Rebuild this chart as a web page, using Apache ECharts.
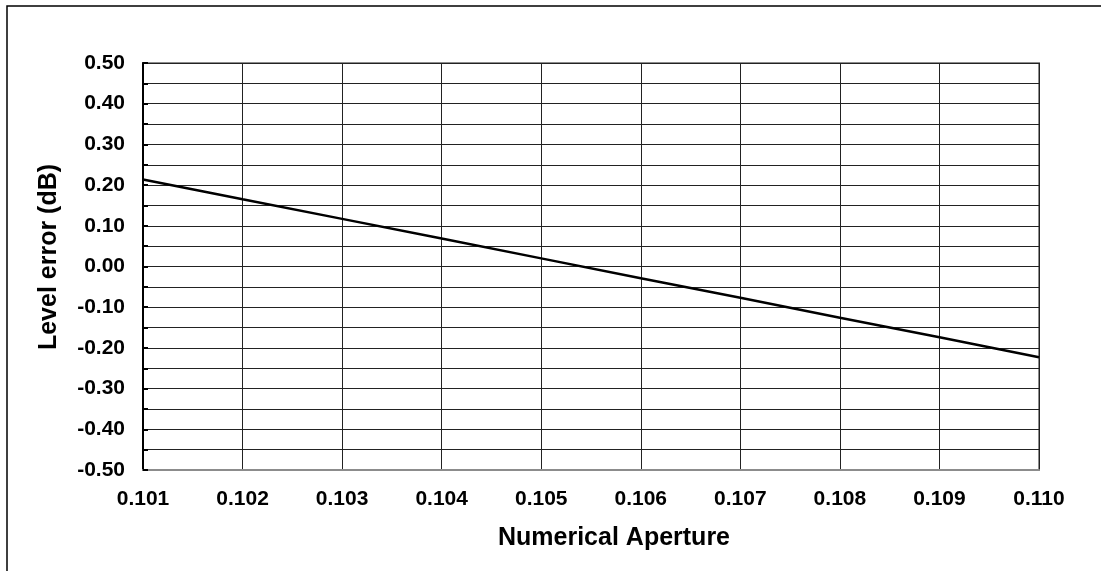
<!DOCTYPE html>
<html>
<head>
<meta charset="utf-8">
<script src="https://cdn.jsdelivr.net/npm/echarts@6/dist/echarts.min.js"></script>
<style>
html,body{margin:0;padding:0;background:#fff;}
#c{width:1101px;height:571px;}
</style>
</head>
<body>
<div id="c"></div>
<script>
var apertures = [0.101, 0.102, 0.103, 0.104, 0.105, 0.106, 0.107, 0.108, 0.109, 0.110];
var levelError = [0.214, 0.165, 0.117, 0.069, 0.020, -0.029, -0.077, -0.126, -0.174, -0.223];
var xTitle = 'Numerical Aperture';
var yTitle = 'Level error (dB)';

var FONT = '"Liberation Sans", Arial, sans-serif';
var chart = echarts.init(document.getElementById('c'), null, {renderer: 'canvas'});
var pts = apertures.map(function (x, i) { return [x, levelError[i]]; });

chart.setOption({
  animation: false,
  backgroundColor: '#ffffff',
  grid: {left: 143, right: 62, top: 63, bottom: 101, show: true, borderColor: '#8c8c8c', borderWidth: 2, backgroundColor: 'transparent'},
  xAxis: {
    type: 'value', min: 0.101, max: 0.110, interval: 0.001,
    axisLine: {show: true, onZero: false, lineStyle: {color: '#8c8c8c', width: 2}},
    axisTick: {show: false},
    axisLabel: {color: '#000', fontFamily: FONT, fontWeight: 'bold', fontSize: 21, margin: 19,
      formatter: function (v) { return v.toFixed(3); }},
    splitLine: {show: true, lineStyle: {color: '#222', width: 1}}
  },
  yAxis: {
    type: 'value', min: -0.5, max: 0.5, interval: 0.1,
    axisLine: {show: true, lineStyle: {color: '#000', width: 2}},
    axisTick: {show: true, inside: true, length: 5, lineStyle: {color: '#000', width: 2}},
    minorTick: {show: true, splitNumber: 2, length: 5, lineStyle: {color: '#000', width: 2}},
    minorSplitLine: {show: true, lineStyle: {color: '#222', width: 1}},
    axisLabel: {color: '#000', fontFamily: FONT, fontWeight: 'bold', fontSize: 21, margin: 18,
      formatter: function (v) { return v.toFixed(2); }},
    splitLine: {show: true, lineStyle: {color: '#222', width: 1}}
  },
  graphic: [
    {type: 'rect', shape: {x: 7, y: 6, width: 1300, height: 800}, style: {fill: 'none', stroke: '#000', lineWidth: 1.5}, silent: true, z: 100},
    {type: 'text', x: 49, y: 257, rotation: Math.PI / 2,
      style: {text: yTitle, font: 'bold 25px ' + FONT, fill: '#000', textAlign: 'center', textVerticalAlign: 'middle'}},
    {type: 'text', x: 614, y: 538,
      style: {text: xTitle, font: 'bold 25px ' + FONT, fill: '#000', textAlign: 'center', textVerticalAlign: 'middle'}}
  ],
  series: [{
    type: 'line', data: pts, symbol: 'none', smooth: false,
    lineStyle: {color: '#000', width: 2.5}, z: 10
  }]
});
</script>
</body>
</html>
